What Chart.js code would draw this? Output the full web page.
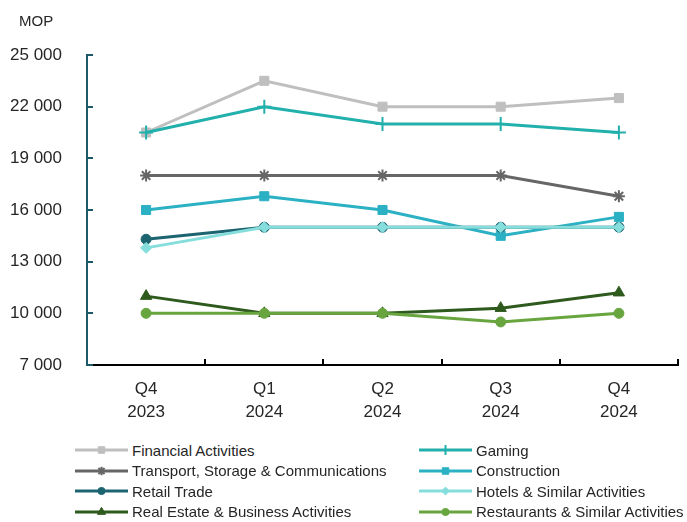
<!DOCTYPE html>
<html>
<head>
<meta charset="utf-8">
<script src="https://cdn.jsdelivr.net/npm/chart.js@4/dist/chart.umd.min.js"></script>
<style>
  body { margin: 0; background: #fff; overflow: hidden; }
  #wrap { position: relative; width: 687px; height: 522px; overflow: hidden; }
  #box { position: absolute; left: 0; top: 0; width: 687px; height: 440px; }
  #unit { position: absolute; left: 19px; top: 12px; font: 15px 'Liberation Sans', Arial, sans-serif; color: #262626; }
  #legend { position: absolute; left: 75px; top: 440px; width: 700px; }
  .lg-row { display: flex; height: 20.5px; align-items: center; }
  .lg-item { display: flex; align-items: center; flex: 0 0 344px; width: 344px; white-space: nowrap;
    font: 15px 'Liberation Sans', Arial, sans-serif; color: #262626; }
  .lg-item canvas { margin-right: 4px; flex: 0 0 auto; }
</style>
</head>
<body>
<div id="wrap">
  <div id="box"><canvas id="c"></canvas></div>
  <div id="unit">MOP</div>
  <div id="legend"></div>
</div>
<script>
// ── Data ──────────────────────────────────────────────────────────────────
const quarters = [['Q4', '2023'], ['Q1', '2024'], ['Q2', '2024'], ['Q3', '2024'], ['Q4', '2024']];
const yTicks = [7000, 10000, 13000, 16000, 19000, 22000, 25000];

const financial    = [20500, 23500, 22000, 22000, 22500];
const gaming       = [20500, 22000, 21000, 21000, 20500];
const transport    = [18000, 18000, 18000, 18000, 16800];
const construction = [16000, 16800, 16000, 14500, 15600];
const retail       = [14300, 15000, 15000, 15000, 15000];
const hotels       = [13800, 15000, 15000, 15000, 15000];
const realEstate   = [11000, 10000, 10000, 10300, 11200];
const restaurants  = [10000, 10000, 10000, 9500, 10000];

const FONT = "'Liberation Sans', Arial, sans-serif";

// ── Series ────────────────────────────────────────────────────────────────
const series = [
  { label: 'Financial Activities',              data: financial,    color: '#bfbfbf', style: 'rect',     r: 6.4 },
  { label: 'Gaming',                            data: gaming,       color: '#22b0ac', style: 'cross',    r: 7 },
  { label: 'Transport, Storage & Communications', data: transport,  color: '#666666', style: 'star',     r: 6 },
  { label: 'Construction',                      data: construction, color: '#2bb1c3', style: 'rect',     r: 6.4 },
  { label: 'Retail Trade',                      data: retail,       color: '#1c6470', style: 'circle',   r: 5 },
  { label: 'Hotels & Similar Activities',       data: hotels,       color: '#86dedc', style: 'rectRot',  r: 5.5 },
  { label: 'Real Estate & Business Activities', data: realEstate,   color: '#2e5a1d', style: 'triangle', r: 6.5 },
  { label: 'Restaurants & Similar Activities',  data: restaurants,  color: '#68a53f', style: 'circle',   r: 5 },
];

const datasets = series.map((s, i) => ({
  label: s.label,
  data: s.data,
  borderColor: s.color,
  backgroundColor: s.color,
  borderWidth: 3,
  pointStyle: s.style,
  pointRadius: s.r,
  pointHoverRadius: s.r,
  pointBorderWidth: (s.style === 'cross' || s.style === 'star') ? 2 : 1,
  pointBorderColor: s.color,
  pointBackgroundColor: s.color,
  tension: 0,
  order: series.length - i,   // later series drawn on top
}));

function spaced(v) { return String(v).replace(/\B(?=(\d{3})+(?!\d))/g, ' '); }

// ── Inner tick marks ──────────────────────────────────────────────────────
const innerTicks = {
  id: 'innerTicks',
  afterDraw(chart) {
    const { ctx, scales: { x, y }, chartArea: a } = chart;
    ctx.save();
    ctx.lineWidth = 2;
    ctx.strokeStyle = '#1d5a69';
    y.ticks.forEach((t, i) => {
      const py = Math.round(y.getPixelForTick(i));
      ctx.beginPath(); ctx.moveTo(a.left, py); ctx.lineTo(a.left + 6, py); ctx.stroke();
    });
    ctx.strokeStyle = '#000';
    for (let i = 1; i <= quarters.length; i++) {
      const px = Math.round(x.getPixelForValue(i - 0.5));
      ctx.beginPath(); ctx.moveTo(px, a.bottom); ctx.lineTo(px, a.bottom - 6); ctx.stroke();
    }
    ctx.restore();
  }
};

const chart = new Chart(document.getElementById('c'), {
  type: 'line',
  data: { labels: quarters, datasets },
  options: {
    responsive: true,
    maintainAspectRatio: false,
    animation: false,
    layout: { padding: { left: 10, right: 9, top: 55, bottom: 0 } },
    plugins: {
      legend: { display: false },
      tooltip: { enabled: false }
    },
    scales: {
      x: {
        offset: true,
        grid: { display: false, drawTicks: false },
        border: { display: true, color: '#000', width: 2 },
        ticks: { color: '#262626', padding: 13, font: { family: FONT, size: 17, lineHeight: 1.35 }, maxRotation: 0 },
        afterFit(s) { s.height = 75; }
      },
      y: {
        min: 7000, max: 25000,
        afterBuildTicks(s) { s.ticks = yTicks.map(v => ({ value: v })); },
        grid: { display: false, drawTicks: false },
        border: { display: true, color: '#1d5a69', width: 2 },
        ticks: { color: '#262626', padding: 25, font: { family: FONT, size: 17 }, callback: v => spaced(v) },
        afterFit(s) { s.width = 77; }
      }
    }
  },
  plugins: [innerTicks]
});

// ── HTML Legend (two columns) ─────────────────────────────────────────────
function buildLegend() {
  const host = document.getElementById('legend');
  const ds = chart.data.datasets;
  for (let r = 0; r < ds.length; r += 2) {
    const row = document.createElement('div');
    row.className = 'lg-row';
    [ds[r], ds[r + 1]].forEach(d => {
      const item = document.createElement('div');
      item.className = 'lg-item';
      const cv = document.createElement('canvas');
      cv.width = 53; cv.height = 14;
      const g = cv.getContext('2d');
      g.strokeStyle = d.borderColor; g.lineWidth = 3;
      g.beginPath(); g.moveTo(0, 7); g.lineTo(53, 7); g.stroke();
      g.fillStyle = d.pointBackgroundColor; g.strokeStyle = d.pointBorderColor;
      g.lineWidth = d.pointBorderWidth;
      Chart.helpers.drawPoint(g, { pointStyle: d.pointStyle, radius: d.pointRadius * 0.72, rotation: 0, borderWidth: d.pointBorderWidth }, 26.5, 7);
      item.appendChild(cv);
      const span = document.createElement('span');
      span.textContent = d.label;
      item.appendChild(span);
      row.appendChild(item);
    });
    host.appendChild(row);
  }
}
buildLegend();
</script>
</body>
</html>
